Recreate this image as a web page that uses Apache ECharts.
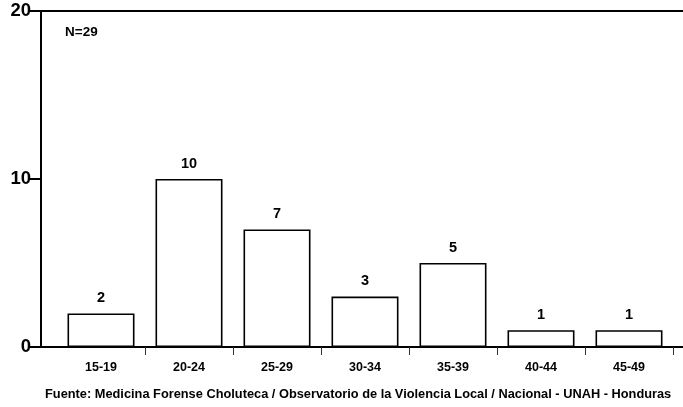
<!DOCTYPE html>
<html><head><meta charset="utf-8">
<script src="https://cdn.jsdelivr.net/npm/echarts@6/dist/echarts.min.js"></script>
<style>html,body{margin:0;padding:0;background:#fff}#c{width:683px;height:407px}</style>
</head><body><div id="c"></div>
<script>
const categories = ['15-19','20-24','25-29','30-34','35-39','40-44','45-49'];
const values = [2,10,7,3,5,1,1];
const yTicks = [0,10,20];
const note = 'N=29';
const source = 'Fuente: Medicina Forense Choluteca / Observatorio de la Violencia Local / Nacional - UNAH - Honduras';

const FONT = '"Liberation Sans", Arial, sans-serif';
const chart = echarts.init(document.getElementById('c'), null, {renderer:'canvas'});
chart.setOption({
  animation:false,
  backgroundColor:'#fff',
  grid:[
    {left:41, right:0, top:11, bottom:60},
    {left:57, right:10, top:11, bottom:60}
  ],
  xAxis:[
    {gridIndex:0, type:'value', min:0, max:1, position:'bottom',
     axisLine:{show:true, onZero:false, lineStyle:{color:'#000', width:2}},
     axisTick:{show:false}, axisLabel:{show:false}, splitLine:{show:false}},
    {gridIndex:0, type:'value', min:0, max:1, position:'top',
     axisLine:{show:true, onZero:false, lineStyle:{color:'#000', width:2}},
     axisTick:{show:false}, axisLabel:{show:false}, splitLine:{show:false}},
    {gridIndex:1, type:'category', data:categories, boundaryGap:true, offset:3,
     axisLine:{show:false},
     axisTick:{show:true, length:8, interval:(i)=>i>0, lineStyle:{color:'#333', width:1}},
     axisLabel:{color:'#000', fontWeight:'bold', fontSize:12.5, fontFamily:FONT, margin:11},
     splitLine:{show:false}}
  ],
  yAxis:[
    {gridIndex:0, type:'value', min:0, max:20, interval:10,
     axisLine:{show:true, lineStyle:{color:'#000', width:2}},
     axisTick:{show:true, length:13, inside:false, lineStyle:{color:'#000', width:2}},
     axisLabel:{color:'#000', fontWeight:'bold', fontSize:18.5, fontFamily:FONT, margin:10,
       formatter:v=> yTicks.includes(v) ? String(v) : ''},
     splitLine:{show:false}},
    {gridIndex:1, type:'value', min:0, max:20, interval:10, show:false}
  ],
  series:[{
    type:'bar', xAxisIndex:2, yAxisIndex:1, data:values, barWidth:67,
    itemStyle:{color:'#fff', borderColor:'#000', borderWidth:1.6},
    label:{show:true, position:'top', distance:8, color:'#000', fontWeight:'bold', fontSize:14.5, fontFamily:FONT}
  }],
  graphic:[
    {type:'text', left:65, top:25, style:{text:note, fill:'#000', font:'bold 13.5px '+FONT}},
    {type:'text', left:45, top:388, style:{text:source, fill:'#000', font:'bold 12.8px '+FONT}}
  ]
});
</script></body></html>
